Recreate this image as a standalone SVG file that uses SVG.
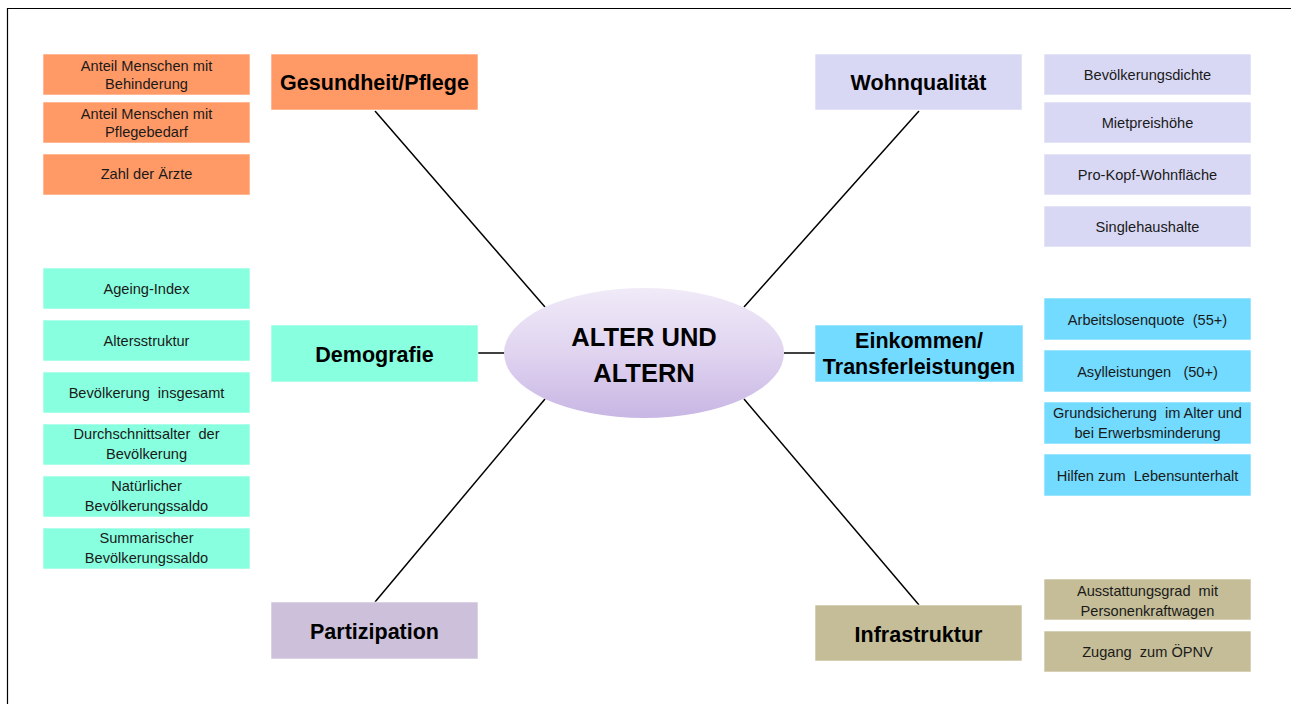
<svg xmlns="http://www.w3.org/2000/svg" width="1291" height="704" viewBox="0 0 1291 704">
<defs>
<linearGradient id="eg" x1="0" y1="0" x2="0" y2="1">
<stop offset="0" stop-color="#F0EAF8"/>
<stop offset="0.5" stop-color="#E0D4F0"/>
<stop offset="1" stop-color="#C8B6E4"/>
</linearGradient>
<style>
.main{font-family:"Liberation Sans",Arial,sans-serif;font-weight:bold;font-size:21.5px;fill:#000;text-anchor:middle}
.sm{font-family:"Liberation Sans",Arial,sans-serif;font-size:14.6px;fill:#1a1a1a;text-anchor:middle;white-space:pre}
.ctr{font-family:"Liberation Sans",Arial,sans-serif;font-weight:bold;font-size:25.5px;fill:#000;text-anchor:middle}
.b{stroke:#ffffff;stroke-opacity:0.6;stroke-width:1}
.or{fill:#FF9966}.lv{fill:#D8D8F4}.mt{fill:#88FFDF}.cy{fill:#72DBFF}.pa{fill:#CCC0DA}.in{fill:#C4BD97}
.conn line{stroke:#000;stroke-width:1.5}
</style>
</defs>
<rect width="1291" height="704" fill="#fff"/>
<path d="M7.5 704 V8.5 H1291" fill="none" stroke="#000" stroke-width="1.2"/>
<g class="conn" id="connectors">
<line x1="375" y1="111" x2="545" y2="307"/>
<line x1="919" y1="111" x2="744" y2="307"/>
<line x1="478" y1="353" x2="505" y2="353"/>
<line x1="784" y1="353" x2="815" y2="353"/>
<line x1="375" y1="602" x2="545" y2="399"/>
<line x1="919" y1="605" x2="744" y2="399"/>
</g>
<g id="center">
<ellipse cx="644" cy="353" rx="140" ry="65" fill="url(#eg)"/>
<text class="ctr" x="644" y="346">ALTER UND</text>
<text class="ctr" x="644" y="382">ALTERN</text>
</g>
<g id="gesundheit"><rect class="or b" x="271" y="54" width="207" height="56"/><text class="main" x="374.5" y="90">Gesundheit/Pflege</text></g>
<g id="wohnqualitaet"><rect class="lv b" x="815" y="54" width="207" height="56"/><text class="main" x="918.5" y="90">Wohnqualität</text></g>
<g id="demografie"><rect class="mt b" x="271" y="325" width="207" height="57"/><text class="main" x="374.5" y="362">Demografie</text></g>
<g id="einkommen"><rect class="cy b" x="815" y="325" width="208" height="57"/><text class="main" x="919" y="348">Einkommen/</text><text class="main" x="919" y="374">Transferleistungen</text></g>
<g id="partizipation"><rect class="pa b" x="271" y="602" width="207" height="57"/><text class="main" x="374.5" y="639">Partizipation</text></g>
<g id="infrastruktur"><rect class="in b" x="815" y="605" width="207" height="56"/><text class="main" x="918.5" y="642">Infrastruktur</text></g>

<g id="g1"><rect class="or b" x="43" y="54" width="207" height="41"/><text class="sm" x="146.5" y="71">Anteil Menschen mit</text><text class="sm" x="146.5" y="89">Behinderung</text></g>
<g id="g2"><rect class="or b" x="43" y="102" width="207" height="41"/><text class="sm" x="146.5" y="119">Anteil Menschen mit</text><text class="sm" x="146.5" y="137">Pflegebedarf</text></g>
<g id="g3"><rect class="or b" x="43" y="154" width="207" height="41"/><text class="sm" x="146.5" y="179">Zahl der Ärzte</text></g>

<g id="d1"><rect class="mt b" x="43" y="268" width="207" height="41"/><text class="sm" x="146.5" y="294">Ageing-Index</text></g>
<g id="d2"><rect class="mt b" x="43" y="320" width="207" height="41"/><text class="sm" x="146.5" y="346">Altersstruktur</text></g>
<g id="d3"><rect class="mt b" x="43" y="372" width="207" height="41"/><text class="sm" x="146.5" y="398">Bevölkerung  insgesamt</text></g>
<g id="d4"><rect class="mt b" x="43" y="424" width="207" height="41"/><text class="sm" x="146.5" y="439">Durchschnittsalter  der</text><text class="sm" x="146.5" y="459">Bevölkerung</text></g>
<g id="d5"><rect class="mt b" x="43" y="476" width="207" height="41"/><text class="sm" x="146.5" y="491">Natürlicher</text><text class="sm" x="146.5" y="511">Bevölkerungssaldo</text></g>
<g id="d6"><rect class="mt b" x="43" y="528" width="207" height="41"/><text class="sm" x="146.5" y="543">Summarischer</text><text class="sm" x="146.5" y="563">Bevölkerungssaldo</text></g>

<g id="w1"><rect class="lv b" x="1044" y="54" width="207" height="41"/><text class="sm" x="1147.5" y="80">Bevölkerungsdichte</text></g>
<g id="w2"><rect class="lv b" x="1044" y="102" width="207" height="41"/><text class="sm" x="1147.5" y="128">Mietpreishöhe</text></g>
<g id="w3"><rect class="lv b" x="1044" y="154" width="207" height="41"/><text class="sm" x="1147.5" y="180">Pro-Kopf-Wohnfläche</text></g>
<g id="w4"><rect class="lv b" x="1044" y="206" width="207" height="41"/><text class="sm" x="1147.5" y="232">Singlehaushalte</text></g>

<g id="e1"><rect class="cy b" x="1044" y="298" width="207" height="42"/><text class="sm" x="1147.5" y="325">Arbeitslosenquote  (55+)</text></g>
<g id="e2"><rect class="cy b" x="1044" y="350" width="207" height="42"/><text class="sm" x="1147.5" y="377">Asylleistungen   (50+)</text></g>
<g id="e3"><rect class="cy b" x="1044" y="402" width="207" height="42"/><text class="sm" x="1147.5" y="418">Grundsicherung  im Alter und</text><text class="sm" x="1147.5" y="438">bei Erwerbsminderung</text></g>
<g id="e4"><rect class="cy b" x="1044" y="454" width="207" height="42"/><text class="sm" x="1147.5" y="481">Hilfen zum  Lebensunterhalt</text></g>

<g id="i1"><rect class="in b" x="1044" y="579" width="207" height="41"/><text class="sm" x="1147.5" y="596">Ausstattungsgrad  mit</text><text class="sm" x="1147.5" y="616">Personenkraftwagen</text></g>
<g id="i2"><rect class="in b" x="1044" y="631" width="207" height="41"/><text class="sm" x="1147.5" y="657">Zugang  zum ÖPNV</text></g>
</svg>
